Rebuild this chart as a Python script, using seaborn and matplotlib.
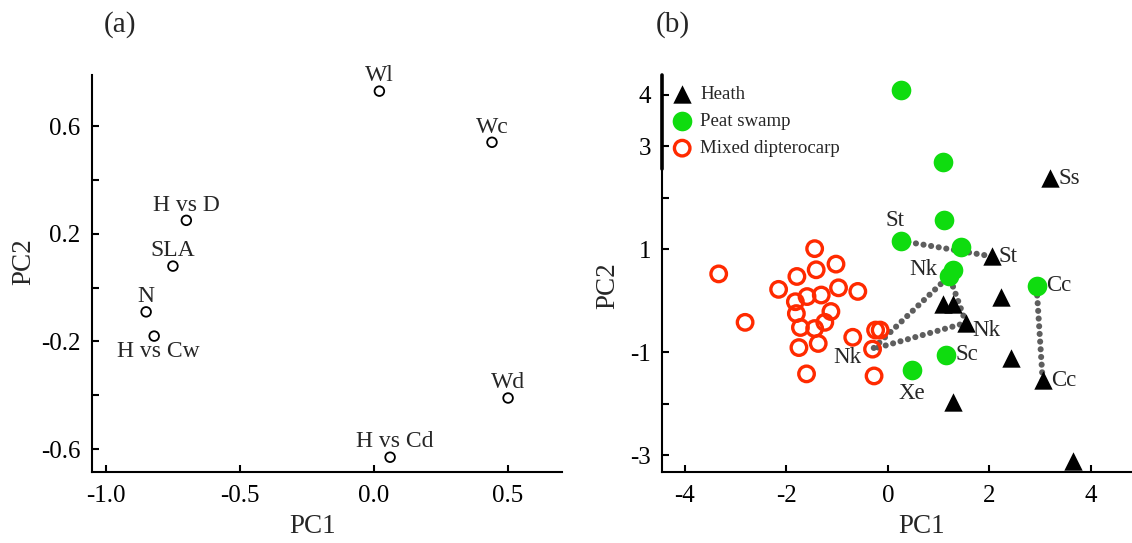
import numpy as np
import pandas as pd
import seaborn as sns
import matplotlib.pyplot as plt

# (a) trait loadings on PC1 / PC2
var_names = ['Wl', 'Wc', 'H vs D', 'SLA', 'N', 'H vs Cw', 'Wd', 'H vs Cd']
load_pc1 = [0.02, 0.44, -0.70, -0.75, -0.85, -0.82, 0.50, 0.06]
load_pc2 = [0.73, 0.54, 0.25, 0.08, -0.09, -0.18, -0.41, -0.63]

# (b) species scores by forest type ('' = no site label)
heath_pc1 = [3.20, 2.05, 2.23, 1.08, 1.28, 1.54, 2.42, 3.05, 1.28, 3.65]
heath_pc2 = [2.38, 0.86, 0.07, -0.07, -0.07, -0.43, -1.12, -1.54, -1.96, -3.12]
heath_site = ['Ss', 'St', '', '', '', 'Nk', '', 'Cc', '', '']

peat_pc1 = [0.26, 1.08, 1.11, 0.27, 1.44, 1.29, 1.21, 2.93, 1.15, 0.47]
peat_pc2 = [4.09, 2.69, 1.56, 1.16, 1.04, 0.60, 0.48, 0.29, -1.05, -1.34]
peat_site = ['', '', '', 'St', '', '', 'Nk', 'Cc', 'Sc', 'Xe']

mixed_pc1 = [-3.33, -1.44, -1.79, -1.41, -1.02, -2.15, -0.97, -0.59, -1.59,
             -1.31, -1.82, -1.80, -1.12, -2.81, -1.72, -1.44, -1.24, -0.69,
             -1.75, -1.37, -1.60, -0.24, -0.15, -0.30, -0.27]
mixed_pc2 = [0.52, 1.01, 0.47, 0.60, 0.71, 0.22, 0.25, 0.18, 0.08, 0.11,
             -0.02, -0.25, -0.21, -0.42, -0.52, -0.54, -0.42, -0.71, -0.91,
             -0.83, -1.42, -0.57, -0.57, -0.94, -1.46]
mixed_site = [''] * 23 + ['Nk', '']

linked_sites = ['St', 'Cc', 'Nk']

sns.set_style('ticks')
plt.rcParams['font.family'] = ['Liberation Serif', 'DejaVu Serif']
plt.rcParams['axes.unicode_minus'] = False

fig = plt.figure(figsize=(11.32, 5.43), dpi=100)
ax1 = fig.add_axes([0.0810, 0.1302, 0.4152, 0.7317])
ax2 = fig.add_axes([0.5851, 0.1302, 0.4149, 0.7317])

for ax in (ax1, ax2):
    ax.spines['top'].set_visible(False)
    ax.spines['right'].set_visible(False)
    for side in ('left', 'bottom'):
        ax.spines[side].set_linewidth(1.5)
        ax.spines[side].set_color('black')
    ax.tick_params(direction='in', length=5, width=1.5, labelsize=18,
                   color='black', labelcolor='black')
    ax.tick_params(axis='y', pad=8)
    ax.tick_params(axis='x', pad=9)

# ---- panel (a)
sns.scatterplot(x=load_pc1, y=load_pc2, ax=ax1, marker='o', s=48,
                facecolors='none', edgecolor='black', linewidth=1.3)
for name, x, y in zip(var_names, load_pc1, load_pc2):
    dy = -11 if name == 'H vs Cw' else 11
    dx = 3 if name in ('H vs Cw', 'H vs Cd') else 0
    ax1.annotate(name, (x, y), xytext=(dx, dy), textcoords='offset points',
                 ha='center', va='center', fontsize=17)
ax1.set_xlim(-1.053, 0.70)
ax1.set_ylim(-0.686, 0.79)
ax1.set_xticks([-1.0, -0.5, 0.0, 0.5], ['-1.0', '-0.5', '0.0', '0.5'])
ax1.set_yticks([-0.6, -0.4, -0.2, 0.0, 0.2, 0.4, 0.6],
               ['-0.6', '', '-0.2', '', '0.2', '', '0.6'])
ax1.set_xlabel('PC1', fontsize=19.5)
ax1.set_ylabel('PC2', fontsize=19.5)
ax1.xaxis.set_label_coords(0.47, -0.105)
ax1.yaxis.set_label_coords(-0.118, 0.53)

# ---- panel (b)
groups = {
    'Heath': (heath_pc1, heath_pc2, heath_site),
    'Peat swamp': (peat_pc1, peat_pc2, peat_site),
    'Mixed dipterocarp': (mixed_pc1, mixed_pc2, mixed_site),
}

# dotted links between the same site in different forest types
for site in linked_sites:
    xs, ys = [], []
    for px, py, ps in groups.values():
        for x, y, s in zip(px, py, ps):
            if s == site:
                xs.append(x)
                ys.append(y)
    if len(xs) > 2:
        xs.append(xs[0])
        ys.append(ys[0])
    ax2.plot(xs, ys, color='#5e5e5e', lw=4.4, linestyle=(0, (0.01, 1.25)),
             dash_capstyle='round', zorder=1)

sns.scatterplot(x=heath_pc1, y=heath_pc2, ax=ax2, marker='^', s=175,
                color='black', edgecolor='black', linewidth=0, label='Heath', zorder=3)
sns.scatterplot(x=peat_pc1, y=peat_pc2, ax=ax2, marker='o', s=200,
                color='#0fdc0f', edgecolor='#0fdc0f', linewidth=0,
                label='Peat swamp', zorder=3)
sns.scatterplot(x=mixed_pc1, y=mixed_pc2, ax=ax2, marker='o', s=125,
                facecolors='none', edgecolor='#ff2a00', linewidth=2.4,
                label='Mixed dipterocarp', zorder=3)

# label offsets (px) and alignment per forest type / site
label_style = {
    ('Heath', 'Ss'): (8, 0, 'left'),
    ('Heath', 'St'): (7, 0, 'left'),
    ('Heath', 'Nk'): (6, -8, 'left'),
    ('Heath', 'Cc'): (8, 0, 'left'),
    ('Peat swamp', 'St'): (-6, 20, 'center'),
    ('Peat swamp', 'Nk'): (-12, 6, 'right'),
    ('Peat swamp', 'Cc'): (10, 0, 'left'),
    ('Peat swamp', 'Sc'): (9, 0, 'left'),
    ('Peat swamp', 'Xe'): (0, -24, 'center'),
    ('Mixed dipterocarp', 'Nk'): (-11, -8, 'right'),
}
for forest, (px, py, ps) in groups.items():
    for x, y, s in zip(px, py, ps):
        if not s:
            continue
        dx, dy, ha = label_style[(forest, s)]
        ax2.annotate(s, (x, y), xytext=(dx * 0.72, dy * 0.72),
                     textcoords='offset points', ha=ha, va='center',
                     fontsize=16.5, zorder=4)

ax2.set_xlim(-4.44, 4.81)
ax2.set_ylim(-3.33, 4.38)
ax2.set_xticks([-4, -2, 0, 2, 4], ['-4', '-2', '0', '2', '4'])
ax2.set_yticks([-3, -2, -1, 1, 2, 3, 4], ['-3', '', '-1', '1', '', '3', '4'])
ax2.set_xlabel('PC1', fontsize=19.5)
ax2.set_ylabel('PC2', fontsize=19.5)
ax2.xaxis.set_label_coords(0.552, -0.105)
ax2.yaxis.set_label_coords(-0.090, 0.471)
# thicker upper part of the left axis line, as in the original figure
ax2.axvline(ax2.get_xlim()[0], ymin=0.763, ymax=1.0, color='black', lw=2.6,
            zorder=5, clip_on=False)

ax2.legend(loc='upper left', bbox_to_anchor=(-0.006, 1.007), frameon=False,
           fontsize=13.6, handlelength=1.0, handletextpad=0.45,
           labelspacing=0.53, borderaxespad=0.3, markerscale=1.0)

fig.text(0.106, 0.955, '(a)', ha='center', va='center', fontsize=21)
fig.text(0.594, 0.955, '(b)', ha='center', va='center', fontsize=21)

fig.savefig('out.png', dpi=100)
